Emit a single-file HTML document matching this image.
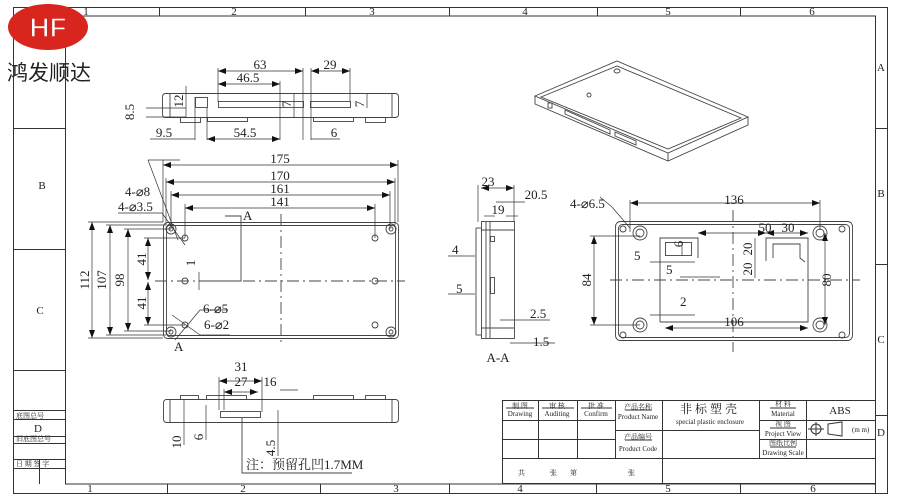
<!DOCTYPE html>
<html><head><meta charset="utf-8"><style>
html,body{margin:0;padding:0;background:#fff;width:900px;height:500px;overflow:hidden}
svg{display:block}
text{font-family:"Liberation Serif","Noto Serif CJK SC",serif;fill:#222}
</style></head><body>
<svg width="900" height="500" viewBox="0 0 900 500" xmlns="http://www.w3.org/2000/svg">
<defs>
<marker id="a" markerWidth="8" markerHeight="6" refX="8" refY="3" orient="auto-start-reverse" markerUnits="userSpaceOnUse"><path d="M0,0 L8,3 L0,6z" fill="#111"/></marker>
</defs>
<g stroke="#333" stroke-width="1" fill="none">
<rect x="13.5" y="7.5" width="874" height="486"/>
<line x1="13" y1="16" x2="876" y2="16"/>
<line x1="65.5" y1="16" x2="65.5" y2="484"/>
<line x1="65" y1="484" x2="876" y2="484"/>
<line x1="875.5" y1="16" x2="875.5" y2="493"/>
<line x1="159.5" y1="7" x2="159.5" y2="16"/><line x1="305.5" y1="7" x2="305.5" y2="16"/><line x1="449.5" y1="7" x2="449.5" y2="16"/><line x1="597.5" y1="7" x2="597.5" y2="16"/><line x1="740.5" y1="7" x2="740.5" y2="16"/>
<line x1="167.5" y1="484" x2="167.5" y2="493"/><line x1="320.5" y1="484" x2="320.5" y2="493"/><line x1="449.5" y1="484" x2="449.5" y2="493"/><line x1="596.5" y1="484" x2="596.5" y2="493"/><line x1="740.5" y1="484" x2="740.5" y2="493"/>
<line x1="875" y1="128.5" x2="888" y2="128.5"/><line x1="875" y1="264.5" x2="888" y2="264.5"/><line x1="875" y1="415.5" x2="888" y2="415.5"/>
<line x1="13" y1="128.5" x2="65" y2="128.5"/><line x1="13" y1="249.5" x2="65" y2="249.5"/>
<line x1="13" y1="370.5" x2="65" y2="370.5"/><line x1="13" y1="410.5" x2="65" y2="410.5"/><line x1="13" y1="419.5" x2="65" y2="419.5"/><line x1="13" y1="436.5" x2="65" y2="436.5"/><line x1="13" y1="443.5" x2="65" y2="443.5"/><line x1="13" y1="459.5" x2="65" y2="459.5"/><line x1="13" y1="468.5" x2="65" y2="468.5"/>
<line x1="39.5" y1="459" x2="39.5" y2="484"/>
<rect x="502.5" y="400.5" width="373" height="83"/>
<line x1="502" y1="420.5" x2="615" y2="420.5"/><line x1="502" y1="439.5" x2="615" y2="439.5"/><line x1="502" y1="458.5" x2="875" y2="458.5"/>
<line x1="538.5" y1="400" x2="538.5" y2="458"/><line x1="577.5" y1="400" x2="577.5" y2="458"/><line x1="615.5" y1="400" x2="615.5" y2="458"/><line x1="662.5" y1="400" x2="662.5" y2="483"/><line x1="759.5" y1="400" x2="759.5" y2="458"/><line x1="806.5" y1="400" x2="806.5" y2="458"/>
<line x1="615" y1="430.5" x2="759" y2="430.5"/><line x1="759" y1="420.5" x2="875" y2="420.5"/><line x1="759" y1="439.5" x2="875" y2="439.5"/>
<line x1="506" y1="408" x2="534" y2="408"/><line x1="542" y1="408" x2="574" y2="408"/><line x1="581" y1="408" x2="612" y2="408"/><line x1="625" y1="410" x2="652" y2="410"/><line x1="625" y1="440" x2="652" y2="440"/>
<line x1="770" y1="408" x2="796" y2="408"/><line x1="770" y1="428" x2="796" y2="428"/><line x1="770" y1="447" x2="796" y2="447"/>
<circle cx="816" cy="429" r="5"/><line x1="808" y1="429" x2="824" y2="429"/><line x1="816" y1="422" x2="816" y2="436"/>
<path d="M828,424 L842,422 L842,436 L828,434z"/>
</g>
<ellipse cx="48" cy="27" rx="40" ry="23" fill="#d8261e"/>
<text x="48" y="37" font-size="28" text-anchor="middle" style="font-family:'Liberation Sans',sans-serif;font-weight:bold;fill:#fff" stroke="#d8261e" stroke-width="1.5" paint-order="normal">HF</text>
<text x="7" y="80" font-size="21" style="font-family:'Liberation Sans','Noto Sans CJK SC',sans-serif">鸿发顺达</text>
<g font-size="11">
<text x="86" y="15" text-anchor="middle">1</text>
<text x="234" y="15" text-anchor="middle">2</text><text x="372" y="15" text-anchor="middle">3</text><text x="525" y="15" text-anchor="middle">4</text><text x="668" y="15" text-anchor="middle">5</text><text x="812" y="15" text-anchor="middle">6</text>
<text x="90" y="492" text-anchor="middle">1</text><text x="243" y="492" text-anchor="middle">2</text><text x="396" y="492" text-anchor="middle">3</text><text x="520" y="492" text-anchor="middle">4</text><text x="668" y="492" text-anchor="middle">5</text><text x="813" y="492" text-anchor="middle">6</text>
<text x="881" y="71" text-anchor="middle">A</text><text x="881" y="197" text-anchor="middle">B</text><text x="881" y="343" text-anchor="middle">C</text><text x="881" y="436" text-anchor="middle">D</text>
<text x="42" y="189" text-anchor="middle">B</text><text x="40" y="314" text-anchor="middle">C</text><text x="38" y="432" text-anchor="middle">D</text>
</g>
<g font-size="7">
<text x="16" y="418">底图总号</text><text x="16" y="441">旧底图总号</text><text x="16" y="466">日 期 签 字</text>
<text x="520" y="408" text-anchor="middle">制 图</text><text x="520" y="416" text-anchor="middle">Drawing</text>
<text x="557" y="408" text-anchor="middle">审 核</text><text x="557" y="416" text-anchor="middle">Auditing</text>
<text x="596" y="408" text-anchor="middle">批 准</text><text x="596" y="416" text-anchor="middle">Confirm</text>
<text x="638" y="409" text-anchor="middle">产品名称</text><text x="638" y="419" text-anchor="middle">Product Name</text>
<text x="638" y="439" text-anchor="middle">产品编号</text><text x="638" y="451" text-anchor="middle">Product Code</text>
<text x="710" y="424" text-anchor="middle">special plastic enclosure</text>
<text x="783" y="406" text-anchor="middle">材 料</text><text x="783" y="416" text-anchor="middle">Material</text>
<text x="783" y="426" text-anchor="middle">视 图</text><text x="783" y="436" text-anchor="middle">Project View</text>
<text x="783" y="445" text-anchor="middle">图纸比例</text><text x="783" y="455" text-anchor="middle">Drawing Scale</text>
<text x="852" y="432">(m m)</text>
<text x="518" y="475">共</text><text x="550" y="475">张</text><text x="570" y="475">第</text><text x="628" y="475">张</text>
</g>
<text x="710" y="413" font-size="12" text-anchor="middle" letter-spacing="3">非标塑壳</text>
<text x="840" y="414" font-size="11" text-anchor="middle">ABS</text>

<g stroke="#444" stroke-width="0.9" fill="none">
<rect x="162.5" y="93.5" width="236" height="24" rx="3"/>
<line x1="170" y1="94" x2="170" y2="117"/><line x1="392" y1="94" x2="392" y2="117"/>
<rect x="195.5" y="97.5" width="12" height="10"/><rect x="218.5" y="101.5" width="85" height="6"/><rect x="310.5" y="101.5" width="40" height="6"/>
<rect x="180.5" y="117.5" width="20" height="5"/><rect x="207.5" y="117.5" width="40" height="4"/><rect x="313.5" y="117.5" width="40" height="4"/><rect x="365.5" y="117.5" width="20" height="5"/>
<rect x="163.5" y="222.5" width="235" height="116" rx="4"/>
<rect x="166.5" y="225.5" width="229" height="110" rx="3"/>
<circle cx="171" cy="229" r="5"/><circle cx="171" cy="229" r="2"/><circle cx="391" cy="229" r="5"/><circle cx="391" cy="229" r="2"/>
<circle cx="171" cy="332" r="5"/><circle cx="171" cy="332" r="2"/><circle cx="391" cy="332" r="5"/><circle cx="391" cy="332" r="2"/>
<circle cx="185" cy="238" r="3"/><circle cx="375" cy="238" r="3"/><circle cx="185" cy="281" r="3"/><circle cx="375" cy="281" r="3"/><circle cx="185" cy="325" r="3"/><circle cx="375" cy="325" r="3"/>
<line x1="281" y1="214" x2="281" y2="345" stroke-dasharray="12,4,2,4"/>
<line x1="155" y1="281" x2="405" y2="281" stroke-dasharray="12,4,2,4"/>
<polyline points="205,281 241,281 241,216 225,216"/>
<rect x="481.5" y="221.5" width="33" height="117"/>
<line x1="476" y1="228" x2="476" y2="335"/><line x1="476" y1="228" x2="481" y2="228"/><line x1="476" y1="335" x2="481" y2="335"/>
<line x1="486" y1="222" x2="486" y2="338"/><line x1="490" y1="222" x2="490" y2="338"/>
<line x1="481" y1="230" x2="514" y2="230"/><line x1="481" y1="328" x2="514" y2="328"/>
<rect x="490.5" y="236.5" width="4" height="5"/><rect x="490.5" y="277.5" width="4" height="16"/>
<rect x="615.5" y="221.5" width="237" height="119" rx="5"/>
<rect x="618.5" y="224.5" width="231" height="113" rx="4"/>
<circle cx="640" cy="233" r="7"/><circle cx="640" cy="233" r="4"/><circle cx="820" cy="233" r="7"/><circle cx="820" cy="233" r="4"/>
<circle cx="640" cy="325" r="7"/><circle cx="640" cy="325" r="4"/><circle cx="820" cy="325" r="7"/><circle cx="820" cy="325" r="4"/>
<circle cx="623" cy="229" r="3"/><circle cx="842" cy="229" r="3"/><circle cx="623" cy="335" r="3"/><circle cx="842" cy="335" r="3"/>
<polyline points="660,322 660,238 698,238 698,258"/>
<rect x="665.5" y="242.5" width="26" height="13"/>
<polyline points="660,322 808,322 808,238 766,238 766,261"/>
<polyline points="773,258 773,244 800,244 800,258 805,262"/>
<line x1="733" y1="210" x2="733" y2="352" stroke-dasharray="12,4,2,4"/>
<line x1="610" y1="280" x2="860" y2="280" stroke-dasharray="12,4,2,4"/>
<path d="M535,96 L617,61 L748,117 L668,153z"/>
<path d="M535,96 L535,104 L668,161 L748,125 L748,117"/>
<line x1="668" y1="153" x2="668" y2="161"/>
<path d="M541,97 L617,66 L741,118 L668,149z"/>
<rect x="548" y="103" width="4" height="5"/>
<path d="M565,110 L610,130 L610,134 L565,114z"/><path d="M615,132 L636,141 L636,145 L615,136z"/>
<circle cx="589" cy="95" r="2"/><ellipse cx="617" cy="71" rx="3" ry="2"/>
<rect x="163.5" y="399.5" width="235" height="23" rx="3"/>
<line x1="170" y1="400" x2="170" y2="422"/><line x1="392" y1="400" x2="392" y2="422"/>
<rect x="180.5" y="395.5" width="18" height="4"/><rect x="206.5" y="395.5" width="40" height="4"/><rect x="313.5" y="395.5" width="40" height="4"/><rect x="365.5" y="395.5" width="20" height="4"/>
<rect x="220.5" y="411.5" width="40" height="6"/>
<polyline points="242,418 242,473 352,473"/>
</g>
<g stroke="#333" stroke-width="0.7" fill="none">
<g marker-start="url(#a)" marker-end="url(#a)">
<line x1="163" y1="165" x2="398" y2="165"/><line x1="166" y1="182" x2="395" y2="182"/><line x1="171" y1="195" x2="390" y2="195"/><line x1="185" y1="208" x2="375" y2="208"/>
<line x1="92" y1="222" x2="92" y2="338"/><line x1="110" y1="225" x2="110" y2="335"/><line x1="128" y1="229" x2="128" y2="331"/>
<line x1="148" y1="238" x2="148" y2="280"/><line x1="148" y1="282" x2="148" y2="325"/>
<line x1="218" y1="71" x2="303" y2="71"/><line x1="218" y1="84" x2="280" y2="84"/><line x1="311" y1="71" x2="350" y2="71"/>
<line x1="207" y1="139" x2="280" y2="139"/>
<line x1="630" y1="203" x2="820" y2="203"/><line x1="594" y1="236" x2="594" y2="325"/><line x1="825" y1="233" x2="825" y2="325"/>
<line x1="665" y1="328" x2="808" y2="328"/>
<line x1="698" y1="233" x2="766" y2="233"/><line x1="766" y1="233" x2="808" y2="233"/>
<line x1="219" y1="381" x2="262" y2="381"/><line x1="224" y1="392" x2="258" y2="392"/>
<line x1="481" y1="188" x2="514" y2="188"/>
</g>
<line x1="163" y1="160" x2="163" y2="222"/><line x1="398" y1="160" x2="398" y2="222"/><line x1="166" y1="178" x2="166" y2="225"/><line x1="395" y1="178" x2="395" y2="225"/>
<line x1="171" y1="191" x2="171" y2="229"/><line x1="390" y1="191" x2="390" y2="229"/><line x1="185" y1="204" x2="185" y2="238"/><line x1="375" y1="204" x2="375" y2="238"/>
<line x1="88" y1="222" x2="163" y2="222"/><line x1="88" y1="338" x2="163" y2="338"/><line x1="106" y1="225" x2="166" y2="225"/><line x1="106" y1="335" x2="166" y2="335"/>
<line x1="124" y1="229" x2="171" y2="229"/><line x1="124" y1="331" x2="171" y2="331"/><line x1="144" y1="238" x2="185" y2="238"/><line x1="144" y1="325" x2="185" y2="325"/>
<line x1="148" y1="160" x2="180" y2="160"/><line x1="148" y1="160" x2="178" y2="240"/>
<line x1="118" y1="213" x2="162" y2="213"/><line x1="162" y1="213" x2="185" y2="245"/>
<line x1="175" y1="340" x2="200" y2="310"/><line x1="200" y1="310" x2="228" y2="310"/>
<line x1="172" y1="315" x2="200" y2="335"/><line x1="200" y1="335" x2="230" y2="335"/>
<line x1="199" y1="281" x2="199" y2="272" /><line x1="199" y1="281" x2="199" y2="290"/>
<line x1="218" y1="68" x2="218" y2="102"/><line x1="303" y1="68" x2="303" y2="140"/><line x1="280" y1="81" x2="280" y2="140"/><line x1="311" y1="68" x2="311" y2="140"/><line x1="350" y1="68" x2="350" y2="102"/>
<line x1="195" y1="97" x2="195" y2="140"/><line x1="207" y1="108" x2="207" y2="140"/><line x1="150" y1="139" x2="195" y2="139"/><line x1="311" y1="139" x2="340" y2="139"/>
<line x1="186" y1="86" x2="186" y2="118"/><line x1="146" y1="108" x2="186" y2="108"/><line x1="146" y1="117" x2="186" y2="117"/>
<line x1="294" y1="93" x2="294" y2="118"/><line x1="367" y1="93" x2="367" y2="108"/>
<line x1="478" y1="185" x2="478" y2="222"/><line x1="514" y1="185" x2="514" y2="222"/><line x1="484" y1="216" x2="495" y2="216"/><line x1="506" y1="216" x2="518" y2="216"/><line x1="496" y1="202" x2="525" y2="202"/>
<line x1="448" y1="256" x2="475" y2="256"/><line x1="448" y1="294" x2="475" y2="294"/><line x1="500" y1="320" x2="550" y2="320"/><line x1="510" y1="343" x2="555" y2="343"/>
<line x1="630" y1="200" x2="630" y2="232"/><line x1="820" y1="200" x2="820" y2="230"/><line x1="590" y1="236" x2="640" y2="236"/><line x1="590" y1="325" x2="640" y2="325"/>
<line x1="650" y1="262" x2="695" y2="262"/><line x1="680" y1="277" x2="720" y2="277"/><line x1="682" y1="242" x2="682" y2="256"/><line x1="650" y1="315" x2="695" y2="315"/>
<line x1="755" y1="238" x2="755" y2="278"/><line x1="612" y1="207" x2="630" y2="228"/><line x1="600" y1="197" x2="612" y2="207"/>
<line x1="219" y1="377" x2="219" y2="410"/><line x1="262" y1="377" x2="262" y2="412"/><line x1="224" y1="389" x2="224" y2="410"/><line x1="280" y1="390" x2="298" y2="390"/>
<line x1="184" y1="399" x2="184" y2="445"/><line x1="206" y1="405" x2="206" y2="440"/><line x1="278" y1="410" x2="278" y2="456"/>
</g>
<g font-size="13">
<text x="260" y="69" text-anchor="middle">63</text><text x="248" y="82" text-anchor="middle">46.5</text><text x="330" y="69" text-anchor="middle">29</text>
<text x="164" y="137" text-anchor="middle">9.5</text><text x="245" y="137" text-anchor="middle">54.5</text><text x="334" y="137" text-anchor="middle">6</text>
<text x="280" y="163" text-anchor="middle">175</text><text x="280" y="180" text-anchor="middle">170</text><text x="280" y="193" text-anchor="middle">161</text><text x="280" y="206" text-anchor="middle">141</text>
<text x="125" y="196">4-⌀8</text><text x="118" y="211">4-⌀3.5</text>
<text x="243" y="220">A</text><text x="174" y="351">A</text>
<text x="203" y="313">6-⌀5</text><text x="204" y="329">6-⌀2</text>
<text x="488" y="186" text-anchor="middle">23</text><text x="536" y="199" text-anchor="middle">20.5</text><text x="498" y="214" text-anchor="middle">19</text>
<text x="452" y="254">4</text><text x="456" y="293">5</text><text x="530" y="318">2.5</text><text x="533" y="346">1.5</text>
<text x="498" y="362" text-anchor="middle">A-A</text>
<text x="570" y="208">4-⌀6.5</text><text x="734" y="204" text-anchor="middle">136</text>
<text x="765" y="232" text-anchor="middle">50</text><text x="788" y="232" text-anchor="middle">30</text>
<text x="634" y="260">5</text><text x="666" y="274">5</text><text x="680" y="306">2</text><text x="734" y="326" text-anchor="middle">106</text>
<text x="241" y="371" text-anchor="middle">31</text><text x="241" y="386" text-anchor="middle">27</text><text x="270" y="386" text-anchor="middle">16</text>
<text x="246" y="469">注：预留孔凹1.7MM</text>
<text transform="translate(134,112) rotate(-90)" text-anchor="middle">8.5</text>
<text transform="translate(183,101) rotate(-90)" text-anchor="middle">12</text>
<text transform="translate(291,104) rotate(-90)" text-anchor="middle">7</text>
<text transform="translate(364,104) rotate(-90)" text-anchor="middle">7</text>
<text transform="translate(89,280) rotate(-90)" text-anchor="middle">112</text>
<text transform="translate(106,280) rotate(-90)" text-anchor="middle">107</text>
<text transform="translate(124,280) rotate(-90)" text-anchor="middle">98</text>
<text transform="translate(146,259) rotate(-90)" text-anchor="middle">41</text>
<text transform="translate(146,303) rotate(-90)" text-anchor="middle">41</text>
<text transform="translate(195,263) rotate(-90)" text-anchor="middle">1</text>
<text transform="translate(591,280) rotate(-90)" text-anchor="middle">84</text>
<text transform="translate(831,280) rotate(-90)" text-anchor="middle">80</text>
<text transform="translate(683,244) rotate(-90)" text-anchor="middle">6</text>
<text transform="translate(752,249) rotate(-90)" text-anchor="middle">20</text>
<text transform="translate(752,269) rotate(-90)" text-anchor="middle">20</text>
<text transform="translate(181,442) rotate(-90)" text-anchor="middle">10</text>
<text transform="translate(203,437) rotate(-90)" text-anchor="middle">6</text>
<text transform="translate(275,448) rotate(-90)" text-anchor="middle">4.5</text>
</g>
</svg>
</body></html>
